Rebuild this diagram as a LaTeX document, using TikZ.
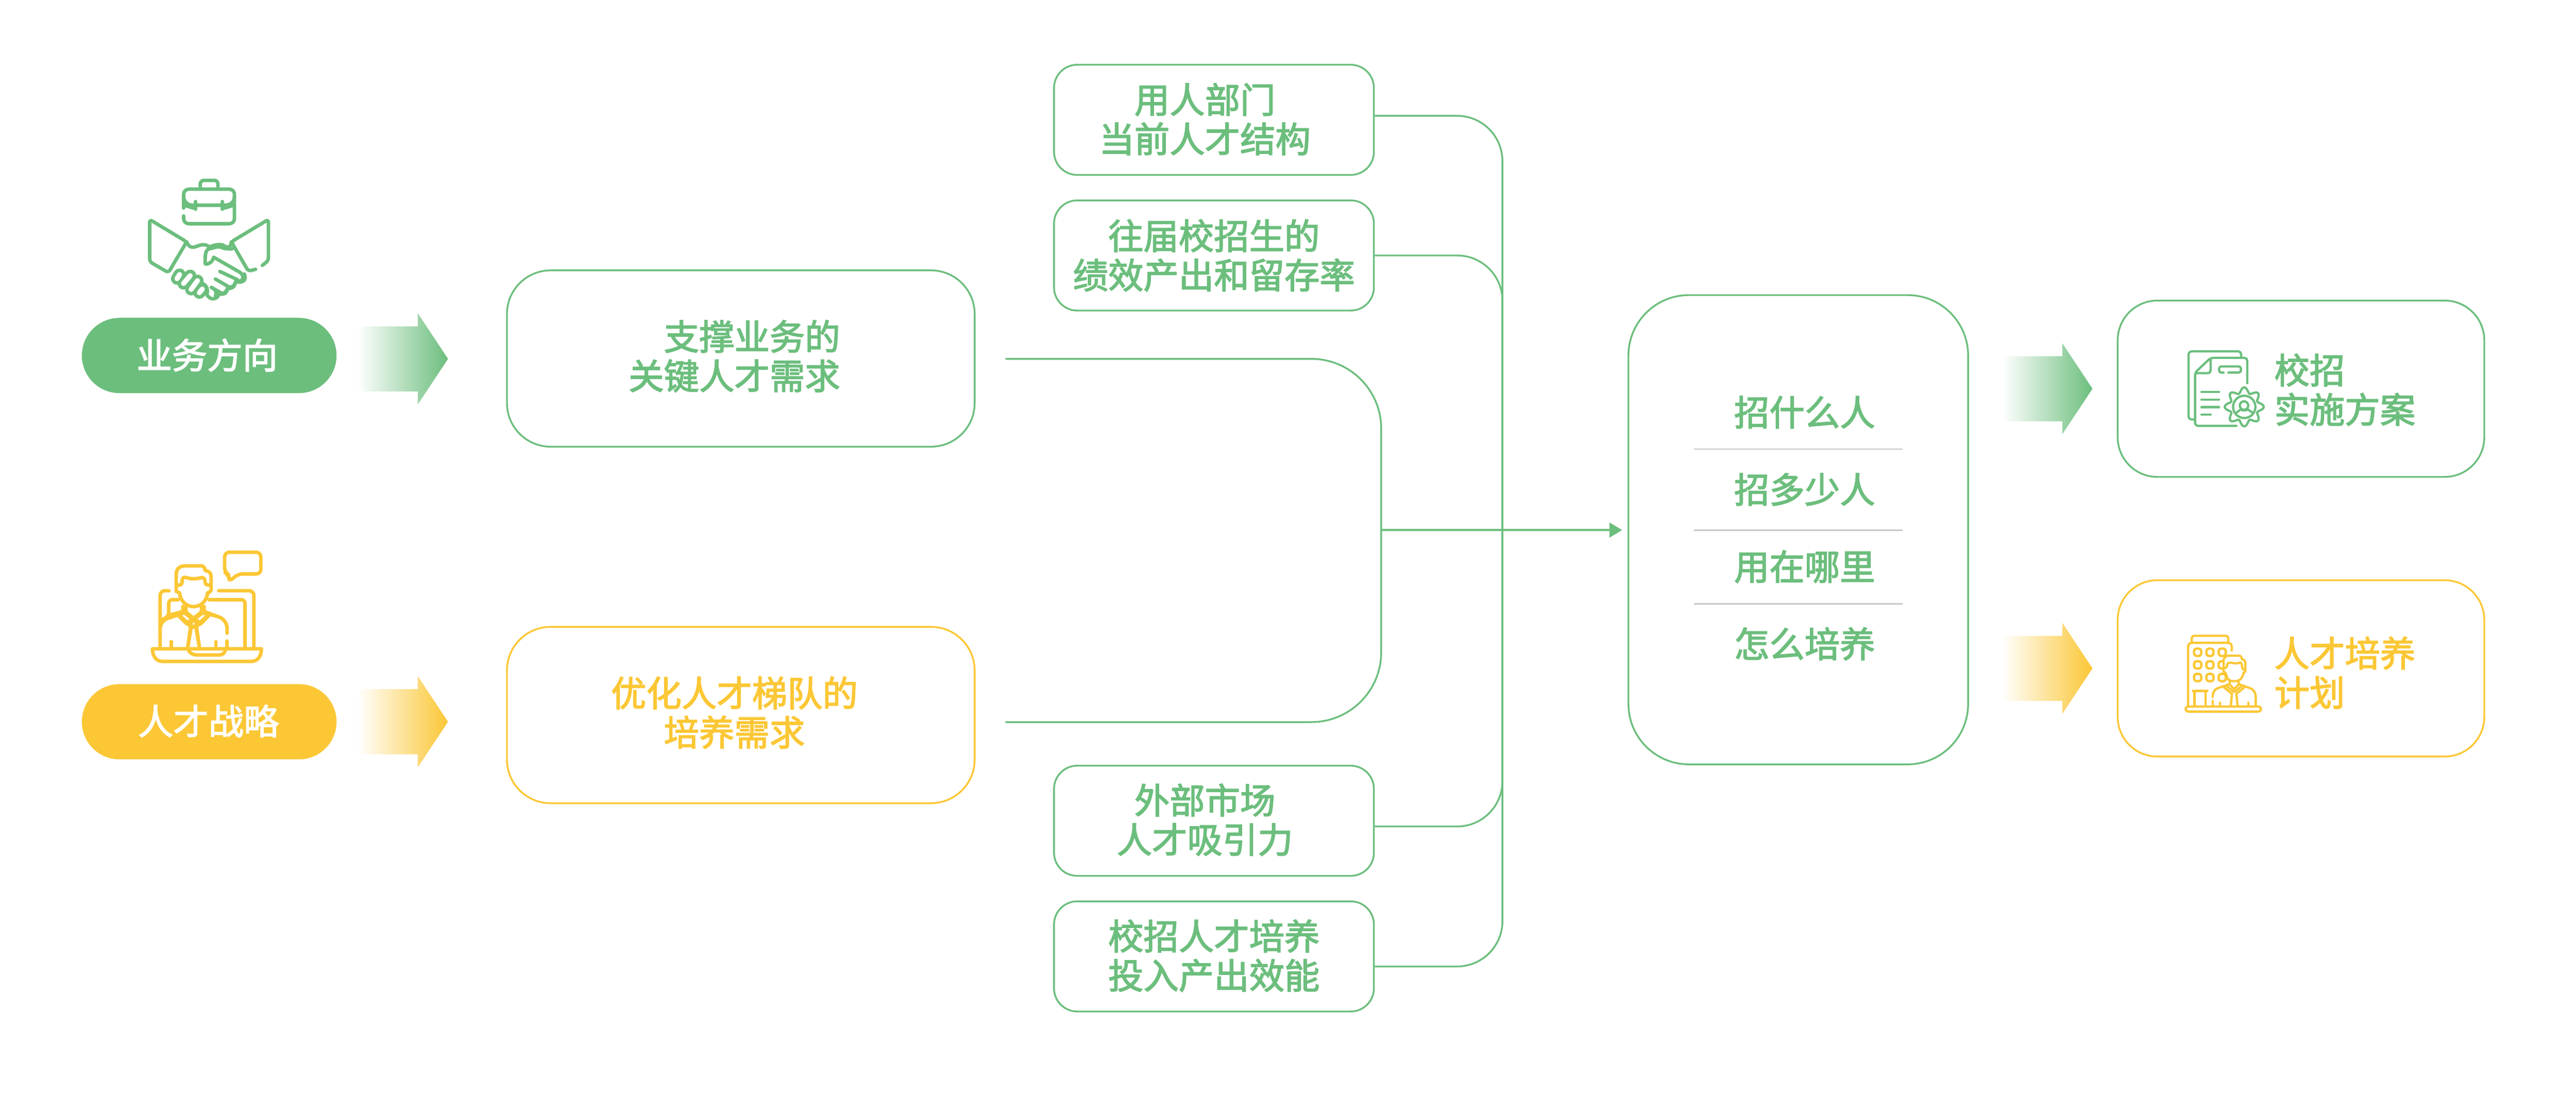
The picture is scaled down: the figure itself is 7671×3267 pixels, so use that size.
\documentclass[tikz,border=0pt]{standalone}
\usepackage{fontspec}
\setmainfont[FakeBold=2.5]{Noto Sans CJK SC}
\usetikzlibrary{arrows.meta,calc,positioning}
\definecolor{leafgreen}{RGB}{108,190,125}
\definecolor{sungold}{RGB}{251,199,53}
\definecolor{sepgrey}{RGB}{200,200,200}
\newcommand{\chipwidth}{9.52cm}
\newcommand{\chipheight}{3.28cm}
\newcommand{\panelwidth}{13.92cm}
\newcommand{\outwidth}{10.91cm}
\newcommand{\panelheight}{5.25cm}
\tikzset{
  >=Stealth,
  font=\fontsize{29.85}{33.3}\selectfont,
  pill/.style={shape=rectangle,minimum width=7.58cm,minimum height=2.24cm,rounded corners=1.12cm,inner sep=0,text=white,align=center},
  panel/.style={draw,shape=rectangle,minimum width=\panelwidth,minimum height=\panelheight,rounded corners=1.3cm,line width=1.5pt,inner sep=0},
  outbox/.style={draw,shape=rectangle,minimum width=\outwidth,minimum height=\panelheight,rounded corners=1.18cm,line width=1.5pt,inner sep=0},
  chip/.style={draw=leafgreen,shape=rectangle,minimum width=\chipwidth,minimum height=\chipheight,rounded corners=0.69cm,line width=1.5pt,inner sep=0},
  caption/.style={inner sep=0,align=center},
  link/.style={draw=leafgreen,line width=1.5pt},
  sepline/.style={draw=sepgrey,line width=1.2pt},
  bigicon/.style={line width=2.95pt,line cap=round,line join=round},
  tinyicon/.style={line width=1.9pt,line cap=round,line join=round},
}
\begin{document}
\begin{tikzpicture}[x=0.01cm,y=-0.01cm]
  \useasboundingbox (0,0) rectangle (7671,3267);
  \foreach \ax/\ay/\acol in {1065/1069/leafgreen,1065/2150/sungold,5962/1158/leafgreen,5962/1991/sungold}
    \shade[left color=white,right color=\acol] (\ax,\ay) ++(0,-97) -- ++(179,0) -- ++(0,-39) -- ++(90,136) -- ++(-90,136) -- ++(0,-39) -- ++(-179,0) -- cycle;

  \node (bizpill) [pill,fill=leafgreen] at (623,1059) {};
  \node (bizlabel) [caption,text=white] at (617,1058) {业务方向};
  \node (talentpill) [pill,fill=sungold] at (623,2150) {};
  \node (talentlabel) [caption,text=white] at (621,2148) {人才战略};

  \node (keypanel) [panel,draw=leafgreen] at (2206,1068) {};
  \node (keylabel) [caption,align=right,text=leafgreen] at (2187,1061) {支撑业务的\\关键人才需求};
  \node (growpanel) [panel,draw=sungold] at (2206,2130) {};
  \node (growlabel) [caption,text=sungold] at (2187,2123) {优化人才梯队的\\培养需求};

  \node (usechip) [chip] at (3615,357) {};
  \node (uselabel) [caption,text=leafgreen] at (3588,355) {用人部门\\当前人才结构};
  \node (pastchip) [chip] at (3615,761) {};
  \node (pastlabel) [caption,text=leafgreen] at (3615,761) {往届校招生的\\绩效产出和留存率};
  \node (marketchip) [chip] at (3615,2445) {};
  \node (marketlabel) [caption,text=leafgreen] at (3588,2442) {外部市场\\人才吸引力};
  \node (costchip) [chip] at (3615,2849) {};
  \node (costlabel) [caption,text=leafgreen] at (3615,2847) {校招人才培养\\投入产出效能};

  \node (hub) [draw=leafgreen,shape=rectangle,minimum width=10.11cm,minimum height=13.97cm,rounded corners=1.8cm,line width=1.5pt,inner sep=0] at (5355,1578) {};
  \node (askwho) [caption,text=leafgreen] at (5374,1228) {招什么人};
  \node (askmany) [caption,text=leafgreen] at (5374,1458) {招多少人};
  \node (askwhere) [caption,text=leafgreen] at (5374,1688) {用在哪里};
  \node (askhow) [caption,text=leafgreen] at (5374,1918) {怎么培养};
  \draw [sepline] (5045,1338) -- (5665,1338);
  \draw [sepline] (5045,1579) -- (5665,1579);
  \draw [sepline] (5045,1799) -- (5665,1799);

  \node (planbox) [outbox,draw=leafgreen] at (6852,1158) {};
  \node (planlabel) [caption,align=left,anchor=west,text=leafgreen] at (6772,1161) {校招\\实施方案};
  \node (trainbox) [outbox,draw=sungold] at (6852,1991) {};
  \node (trainlabel) [caption,align=left,anchor=west,text=sungold] at (6772,2004) {人才培养\\计划};

  \coordinate (trunk) at (4474,0);
  \coordinate (ua) at ($(usechip.east)+(0,-12)$);
  \coordinate (ub) at (pastchip.east);
  \coordinate (uc) at ($(marketchip.east)+(0,17)$);
  \coordinate (ud) at ($(costchip.east)+(0,30)$);
  \draw [link,rounded corners=1.35cm] (ua) -- (ua -| trunk) -- (ud -| trunk) -- (ud);
  \draw [link,rounded corners=1.35cm] (ub) -- (ub -| trunk) -- (uc -| trunk) -- (uc);

  \coordinate (keyout) at (2994,1069);
  \coordinate (growout) at (2994,2151);
  \coordinate (joint) at (4113,1579);
  \coordinate (hubin) at ($(hub.west)+(-16,1)$);
  \draw [link,rounded corners=2.08cm] (keyout) -- (keyout -| joint) -- (growout -| joint) -- (growout);
  \draw [link,-{Triangle[length=10.8pt,width=12.5pt]},leafgreen] (joint) -- (hubin);

  \begin{scope}[shift={(420,510)},x=0.003333cm,y=-0.003333cm,bigicon,draw=leafgreen]
    \draw [rounded corners=3pt] (530,145) -- (530,82) -- (688,82) -- (688,145);
    \draw [rounded corners=4.3pt] (381,330) -- (381,161) -- (836,161) -- (836,470) -- (381,470) -- (381,400);
    \draw (381,225) .. controls (381,275) and (420,305) .. (470,305) -- (745,305) .. controls (800,305) and (836,275) .. (836,225);
    \draw (385,305) -- (470,330) (745,330) -- (830,305);
    \draw (488,272) -- (488,340) (727,272) -- (727,340);
    \draw [rounded corners=2.5pt] (77,432) -- (77,810) -- (245,908) -- (408,632) -- cycle;
    \draw [rounded corners=2.5pt] (1085,843) -- (1140,800) -- (1140,432) -- (808,632) -- (960,895) -- (1025,878);
    \draw (408,632) .. controls (430,690) and (470,685) .. (490,675) .. controls (530,660) and (570,645) .. (610,677) .. controls (650,665) and (710,640) .. (750,672) .. controls (775,685) and (805,685) .. (808,632);
    \draw (815,695) .. controls (770,695) and (740,695) .. (715,680) .. controls (690,670) and (660,685) .. (610,695) .. controls (575,705) and (572,750) .. (575,830) .. controls (610,835) and (640,810) .. (650,770) -- (885,905) .. controls (925,935) and (920,975) .. (880,985) .. controls (870,985) and (865,975) .. (860,970) -- (705,897);
    \draw (665,965) -- (785,1035) .. controls (800,1042) and (835,1035) .. (845,990);
    \draw (630,1040) -- (725,1095) .. controls (750,1090) and (770,1070) .. (775,1045);
    \draw (630,1040) .. controls (660,1060) and (685,1075) .. (665,1115);
    \draw (925,920) .. controls (945,975) and (915,1000) .. (860,990);
    \draw (845,995) .. controls (840,1040) and (800,1055) .. (775,1050);
    \draw (775,1050) .. controls (765,1100) and (730,1110) .. (700,1095);
    \draw (695,1100) .. controls (690,1140) and (640,1155) .. (610,1130) -- (590,1110);
    \draw (550,1005) .. controls (585,1020) and (600,1050) .. (592,1095);
    \draw [line width=10.3pt,line cap=round,leafgreen] (322,962) -- (345,925) (380,1005) -- (440,935) (448,1058) -- (505,980) (522,1088) -- (548,1055);
    \draw [line width=4.3pt,line cap=round,white] (322,962) -- (345,925) (380,1005) -- (440,935) (448,1058) -- (505,980) (522,1088) -- (548,1055);
  \end{scope}

  \begin{scope}[shift={(430,1620)},x=0.003333cm,y=-0.003333cm,bigicon,draw=sungold]
    \draw [rounded corners=4pt] (718,75) -- (1042,75) -- (1042,270) -- (835,270) -- (760,340) -- (757,280) -- (718,255) -- cycle;
    \draw [rounded corners=4pt] (220,420) -- (140,420) -- (140,925);
    \draw [rounded corners=4pt] (665,420) -- (980,420) -- (980,925);
    \draw [rounded corners=3pt] (303,500) -- (218,500) -- (218,645) -- (150,685);
    \draw [rounded corners=3pt] (578,500) -- (900,500) -- (900,925);
    \draw (285,425) -- (285,270) .. controls (285,220) and (320,197) .. (370,197) -- (510,197) .. controls (530,197) and (540,215) .. (545,240) .. controls (590,245) and (597,270) .. (597,300) -- (597,410) .. controls (597,425) and (580,435) .. (565,440);
    \draw (285,370) -- (310,370) .. controls (335,370) and (338,350) .. (338,330) .. controls (340,295) and (360,295) .. (385,305) .. controls (420,315) and (460,315) .. (500,305) .. controls (530,295) and (543,310) .. (543,345) .. controls (545,370) and (570,370) .. (597,370);
    \draw (285,425) -- (315,440) .. controls (320,510) and (375,562) .. (440,562) .. controls (505,562) and (560,510) .. (565,440);
    \draw (372,565) -- (372,610) -- (440,667) -- (510,610) -- (510,565);
    \draw (140,770) .. controls (145,700) and (180,675) .. (215,665) -- (300,638) -- (375,712) -- (415,735) -- (388,925);
    \draw (740,800) -- (740,760) .. controls (740,700) and (700,665) .. (660,652) -- (585,632) -- (510,712) -- (465,735) -- (492,925);
    \draw (218,640) -- (345,605) -- (345,560) (535,560) -- (535,605) -- (660,652);
    \draw (312,640) -- (355,615) -- (430,672) -- (385,705) -- cycle;
    \draw (570,640) -- (525,615) -- (450,672) -- (495,705) -- cycle;
    \draw (440,675) -- (472,720) -- (440,745) -- (408,720) -- cycle;
    \draw (418,750) -- (388,925) (462,750) -- (492,925);
    \draw (240,875) -- (240,925) (640,875) -- (640,925) (740,870) -- (740,925);
    \draw (72,940) -- (1047,940) .. controls (1047,1010) and (1010,1052) .. (960,1052) -- (160,1052) .. controls (110,1052) and (72,1010) .. (72,940) -- cycle;
    \draw (395,950) .. controls (410,995) and (470,995) .. (480,995) -- (650,995) .. controls (690,995) and (710,995) .. (725,950);
  \end{scope}

  \begin{scope}[shift={(6490,1030)},x=0.003333cm,y=-0.003333cm,tinyicon,draw=leafgreen]
    \draw [rounded corners=2.4pt] (130,660) -- (82,660) -- (82,50) -- (552,50) -- (552,100);
    \draw [rounded corners=2.4pt] (510,717) -- (140,717) -- (140,240) -- (280,108) -- (607,108) -- (607,335);
    \draw [rounded corners=2pt] (280,115) -- (278,245) -- (150,245);
    \draw [rounded corners=1.8pt] (395,240) -- (355,240) -- (355,185) -- (550,185) -- (550,240) -- (438,240);
    \draw (197,413) -- (355,413) (197,482) -- (355,482) (197,550) -- (355,550) (197,617) -- (280,617);
    \draw plot[domain=0:360,samples=200,smooth] ({580+(150+24*cos(8*\x))*cos(\x)},{547+(150+24*cos(8*\x))*sin(\x)}) -- cycle;
    \draw (580,547) circle [radius=100];
    \draw (578,535) circle [radius=38];
    \draw (512,597) -- (548,570) .. controls (565,582) and (595,582) .. (612,570) -- (652,597);
  \end{scope}

  \begin{scope}[shift={(6490,1870)},x=0.003333cm,y=-0.003333cm,tinyicon,draw=sungold]
    \draw [rounded corners=2pt] (110,135) -- (110,72) -- (437,72) -- (437,135);
    \draw [rounded corners=3pt] (78,700) -- (78,135) -- (468,135) -- (468,205);
    \foreach \wx in {131,241,351}
      \foreach \wy in {187,300,413}
        \draw [rounded corners=2pt,line width=2pt] (\wx,\wy) rectangle ++(64,65);
    \draw [fill=white] (395,395) -- (395,285) .. controls (405,260) and (420,250) .. (440,250) -- (535,250) .. controls (555,250) and (555,270) .. (560,282) .. controls (590,285) and (590,310) .. (590,320) -- (590,390) .. controls (575,400) and (572,410) .. (570,420) .. controls (550,470) and (530,478) .. (490,478) .. controls (450,478) and (430,470) .. (420,425) .. controls (415,400) and (405,395) .. (395,395) -- cycle;
    \draw (395,360) -- (410,360) .. controls (428,350) and (428,335) .. (428,325) .. controls (440,305) and (465,315) .. (490,318) .. controls (510,320) and (530,318) .. (545,310) .. controls (560,320) and (560,335) .. (560,350) .. controls (565,375) and (575,375) .. (590,375);
    \draw (450,485) -- (450,510) -- (490,548) -- (530,510) -- (530,485);
    \draw (297,620) .. controls (300,565) and (320,550) .. (345,540) -- (447,505);
    \draw (683,695) -- (683,610) .. controls (670,555) and (650,548) .. (630,540) -- (533,505);
    \draw (400,535) -- (470,590) (580,535) -- (510,590);
    \draw (425,525) -- (490,575) -- (555,525);
    \draw (470,590) -- (460,695) (510,590) -- (520,695);
    \draw (297,655) -- (297,695) (362,670) -- (362,695) (617,670) -- (617,695);
    \draw (120,565) -- (250,565) (135,565) -- (135,700) (235,565) -- (235,700);
    \draw [rounded corners=2.1pt] (55,705) -- (730,705) -- (730,750) -- (55,750) -- cycle;
  \end{scope}
\end{tikzpicture}
\end{document}
